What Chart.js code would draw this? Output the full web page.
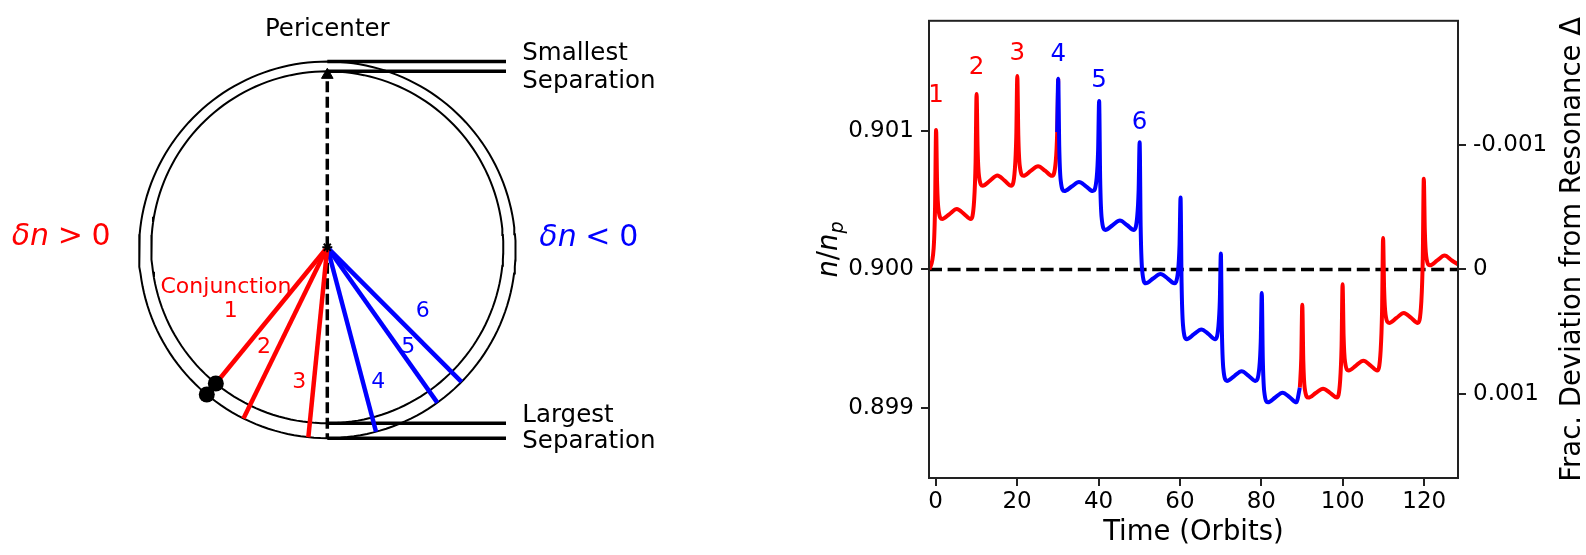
<!DOCTYPE html>
<html>
<head>
<meta charset="utf-8">
<script src="https://cdn.jsdelivr.net/npm/chart.js@4.4.1/dist/chart.umd.min.js"></script>
<style>
  html, body { margin: 0; padding: 0; background: #fff; }
  body { width: 1586px; height: 555px; position: relative; overflow: hidden; }
  #sketch { position: absolute; left: 0; top: 0; }
  #ratioChart { position: absolute; left: 760px; top: 0; }
</style>
</head>
<body>
<canvas id="sketch" width="760" height="555"></canvas>
<canvas id="ratioChart" width="826" height="555"></canvas>
<script>
Chart.defaults.font.family = '"DejaVu Sans", "Liberation Sans", sans-serif';
Chart.defaults.color = '#000';

// ---- left panel: orbit sketch (units are pixels, origin on the star, y up) ----
const innerOrbitRadius = 176;
const outerOrbitSemiMajor = 188.3;
const outerOrbitEcc = 0.0135;
// angle of each conjunction, degrees from apocentre (bottom), + towards the right
const conjunctionAngles = [-39.3, -26.1, -5.7, 14.8, 35.3, 44.9];
const conjunctionNames = ['1', '2', '3', '4', '5', '6'];
const conjunctionColors = ['#ff0000', '#ff0000', '#ff0000', '#0000ff', '#0000ff', '#0000ff'];
const separationLineLength = 178.7;

// ---- right panel: n/n_p against time ----
const orbitTimes = [
  -1.55,
  -0.5, -0.15, 0.1, 0.35, 0.7, 1.6, 3.4, 5.2, 7.0, 8.6,
  9.45, 9.8, 10.05, 10.3, 10.65, 11.55, 13.35, 15.15, 16.95, 18.55,
  19.45, 19.8, 20.05, 20.3, 20.65, 21.55, 23.35, 25.15, 26.95, 28.55,
  29.5, 29.85, 30.1, 30.35, 30.7, 31.6, 33.4, 35.2, 37.0, 38.6,
  39.55, 39.9, 40.15, 40.4, 40.75, 41.65, 43.45, 45.25, 47.05, 48.65,
  49.5, 49.85, 50.1, 50.35, 50.7, 51.6, 53.4, 55.2, 57.0, 58.6,
  59.55, 59.9, 60.15, 60.4, 60.75, 61.65, 63.45, 65.25, 67.05, 68.65,
  69.45, 69.8, 70.05, 70.3, 70.65, 71.55, 73.35, 75.15, 76.95, 78.55,
  79.5, 79.85, 80.1, 80.35, 80.7, 81.6, 83.4, 85.2, 87.0, 88.6,
  89.45, 89.8, 90.05, 90.3, 90.65, 91.55, 93.35, 95.15, 96.95, 98.55,
  99.35, 99.7, 99.95, 100.2, 100.55, 101.45, 103.25, 105.05, 106.85, 108.45,
  109.3, 109.65, 109.9, 110.15, 110.5, 111.4, 113.2, 115.0, 116.8, 118.4,
  119.3, 119.65, 119.9, 120.15, 120.5, 121.4, 123.2, 125.0, 126.8, 128.4
];
const ratioValues = [
  0.900000,
  0.900152, 0.900455, 0.901010, 0.900623, 0.900430, 0.900365, 0.900401, 0.900437, 0.900401, 0.900365,
  0.900501, 0.900772, 0.901270, 0.900872, 0.900672, 0.900606, 0.900643, 0.900680, 0.900643, 0.900606,
  0.900725, 0.900963, 0.901400, 0.900967, 0.900750, 0.900678, 0.900713, 0.900747, 0.900713, 0.900678,
  0.900783, 0.900994, 0.901380, 0.900892, 0.900648, 0.900567, 0.900600, 0.900633, 0.900600, 0.900567,
  0.900665, 0.900861, 0.901220, 0.900660, 0.900379, 0.900286, 0.900320, 0.900354, 0.900320, 0.900286,
  0.900381, 0.900571, 0.900920, 0.900308, 0.900002, 0.899900, 0.899934, 0.899967, 0.899934, 0.899900,
  0.899993, 0.900179, 0.900520, 0.899905, 0.899598, 0.899495, 0.899531, 0.899566, 0.899531, 0.899495,
  0.899588, 0.899774, 0.900115, 0.899562, 0.899285, 0.899193, 0.899228, 0.899263, 0.899228, 0.899193,
  0.899289, 0.899480, 0.899830, 0.899355, 0.899117, 0.899038, 0.899073, 0.899108, 0.899073, 0.899038,
  0.899144, 0.899356, 0.899745, 0.899341, 0.899139, 0.899072, 0.899105, 0.899137, 0.899105, 0.899072,
  0.899195, 0.899441, 0.899893, 0.899518, 0.899331, 0.899268, 0.899304, 0.899339, 0.899304, 0.899268,
  0.899412, 0.899700, 0.900227, 0.899859, 0.899674, 0.899613, 0.899649, 0.899685, 0.899649, 0.899613,
  0.899770, 0.900083, 0.900657, 0.900281, 0.900093, 0.900030, 0.900065, 0.900100, 0.900065, 0.900035
];
const redUntil = 30.1;    // red runs up the flank of spike 4
const blueFrom = 29.85;   // conjunction 4 onwards drawn blue
const blueTo = 89.45;     // back to red from conjunction 10
const resonanceRatio = 0.9;
const timeMin = -1.64, timeMax = 128.3;
const ratioMin = 0.89849, ratioMax = 0.90180;
const timeTicks = [0, 20, 40, 60, 80, 100, 120];
const ratioTicks = [0.899, 0.900, 0.901];
const deltaTicks = [-0.001, 0, 0.001];
const spikeNames = ['1', '2', '3', '4', '5', '6'];
const spikeLabelTimes = [0.1, 10.05, 20.05, 30.1, 40.15, 50.1];
const spikeLabelValues = [0.90128, 0.901478, 0.901578, 0.901575, 0.901385, 0.901084];

const FONT = '"DejaVu Sans"';

// draw text so that the middle of the capitals sits on yc
function capText(ctx, text, x, yc, size) {
  ctx.textBaseline = 'alphabetic';
  ctx.fillText(text, x, yc + 0.3645 * size);
}

// mixed italic / upright label, left aligned at x; gap is extra space in em
function mathText(ctx, parts, x, baseline, size) {
  ctx.textAlign = 'left';
  ctx.textBaseline = 'alphabetic';
  let cx = x;
  parts.forEach(p => {
    if (p.gap) { cx += p.gap * size; return; }
    const s = size * (p.scale || 1);
    ctx.font = (p.italic ? 'italic ' : '') + s + 'px ' + FONT;
    ctx.fillText(p.text, cx, baseline + (p.shift || 0) * size);
    cx += ctx.measureText(p.text).width;
  });
  return cx - x;
}

function mathWidth(ctx, parts, size) {
  let w = 0;
  parts.forEach(p => {
    if (p.gap) { w += p.gap * size; return; }
    ctx.font = (p.italic ? 'italic ' : '') + size * (p.scale || 1) + 'px ' + FONT;
    w += ctx.measureText(p.text).width;
  });
  return w;
}

// ---------------- left panel ----------------
const rad = d => d * Math.PI / 180;
const outerRadius = phi => outerOrbitSemiMajor * (1 - outerOrbitEcc ** 2) / (1 - outerOrbitEcc * Math.cos(phi));
const polar = (r, phi) => ({ x: r * Math.sin(phi), y: -r * Math.cos(phi) });

const innerOrbit = [];
const outerOrbit = [];
for (let d = 0; d <= 360; d += 2) {
  innerOrbit.push(polar(innerOrbitRadius, rad(d)));
  outerOrbit.push(polar(outerRadius(rad(d)), rad(d)));
}
const pericentre = outerRadius(Math.PI);
const apocentre = outerRadius(0);

function stroke(data, color, width, extra) {
  return Object.assign({
    data, showLine: true, fill: false, pointRadius: 0,
    borderColor: color, borderWidth: width, order: 2
  }, extra || {});
}

const firstConj = rad(conjunctionAngles[0]);

const sketchText = {
  id: 'sketchText',
  afterDatasetsDraw(chart) {
    const { ctx, scales: { x, y } } = chart;
    const px = v => x.getPixelForValue(v);
    const py = v => y.getPixelForValue(v);
    ctx.save();
    ctx.fillStyle = '#000';
    ctx.font = '24.5px ' + FONT;
    ctx.textAlign = 'center';
    capText(ctx, 'Pericenter', px(0), py(220), 24.5);
    ctx.textAlign = 'left';
    capText(ctx, 'Smallest', px(195), py(196), 24.5);
    capText(ctx, 'Separation', px(195), py(168.3), 24.5);
    capText(ctx, 'Largest', px(195), py(-165.7), 24.5);
    capText(ctx, 'Separation', px(195), py(-191.7), 24.5);

    ctx.fillStyle = '#ff0000';
    ctx.font = '22px ' + FONT;
    ctx.textAlign = 'center';
    capText(ctx, 'Conjunction', px(-101.3), py(-37.2), 22);

    const numPos = [[-96.6, -62], [-63.3, -97.7], [-28, -132.7], [51, -132.7], [81, -97.7], [95.4, -62]];
    conjunctionNames.forEach((n, i) => {
      ctx.fillStyle = conjunctionColors[i];
      capText(ctx, n, px(numPos[i][0]), py(numPos[i][1]), 22);
    });

    ctx.fillStyle = '#ff0000';
    mathText(ctx, [{ text: 'δn', italic: true }, { gap: 0.29 }, { text: '>' }, { gap: 0.29 }, { text: '0' }],
      px(-315.6), py(13.3) + 0.3645 * 30, 30);
    ctx.fillStyle = '#0000ff';
    mathText(ctx, [{ text: 'δn', italic: true }, { gap: 0.29 }, { text: '<' }, { gap: 0.29 }, { text: '0' }],
      px(212), py(12.3) + 0.3645 * 30, 30);
    ctx.restore();
  }
};

new Chart(document.getElementById('sketch'), {
  type: 'scatter',
  data: {
    datasets: [
      stroke(outerOrbit, '#000', 2, { order: 6 }),
      stroke(innerOrbit, '#000', 2, { order: 6 }),
      stroke([{ x: 0, y: pericentre }, { x: separationLineLength, y: pericentre }], '#000', 3.5, { order: 5 }),
      stroke([{ x: 0, y: innerOrbitRadius }, { x: separationLineLength, y: innerOrbitRadius }], '#000', 3.5, { order: 5 }),
      stroke([{ x: 0, y: -innerOrbitRadius }, { x: separationLineLength, y: -innerOrbitRadius }], '#000', 3.5, { order: 5 }),
      stroke([{ x: 0, y: -apocentre }, { x: separationLineLength, y: -apocentre }], '#000', 3.5, { order: 5 }),
      stroke([{ x: 0, y: 0 }, { x: 0, y: 166 }], '#000', 3.5, { borderDash: [11, 4.5], order: 4 }),
      stroke([{ x: 0, y: 0 }, { x: 0, y: -apocentre }], '#000', 3.5, { borderDash: [11, 4.5], order: 4 }),
      ...conjunctionAngles.map((a, i) =>
        stroke([{ x: 0, y: 0 }, polar(outerRadius(rad(a)), rad(a))], conjunctionColors[i], 4.5, { order: 3 })),
      {
        data: [{ x: 0, y: 172.3 }], pointStyle: 'triangle', pointRadius: 6.7,
        pointBackgroundColor: '#000', backgroundColor: '#000', borderColor: '#000', borderWidth: 1, order: 1
      },
      {
        data: [{ x: 0, y: 0 }], pointStyle: 'star', pointRadius: 5,
        borderColor: '#000', borderWidth: 2, order: 1
      },
      {
        data: [polar(innerOrbitRadius, firstConj), polar(outerRadius(firstConj), firstConj)],
        pointRadius: 8, pointBackgroundColor: '#000', backgroundColor: '#000', borderWidth: 0, order: 0
      }
    ]
  },
  options: {
    responsive: false,
    animation: false,
    events: [],
    layout: { padding: 0, autoPadding: false },
    plugins: { legend: { display: false }, tooltip: { enabled: false } },
    scales: {
      x: { type: 'linear', display: false, min: -327.3, max: 432.7 },
      y: { type: 'linear', display: false, min: -307.7, max: 247.3 }
    }
  },
  plugins: [sketchText]
});

// ---------------- right panel ----------------
const points = orbitTimes.map((t, i) => ({ x: t, y: ratioValues[i] }));
const redEarly = points.filter(p => p.x <= redUntil);
const blueMid = points.filter(p => p.x >= blueFrom && p.x <= blueTo);
const redLate = points.filter(p => p.x >= blueTo);
const exactLine = [{ x: timeMin, y: resonanceRatio }, { x: timeMax, y: resonanceRatio }];

const tickGrid = { drawOnChartArea: false, drawTicks: true, tickLength: 8, lineWidth: 2, color: '#222' };
const tickFont = { size: 23 };

function curve(data, color, order) {
  return {
    data, borderColor: color, borderWidth: 4, pointRadius: 0,
    cubicInterpolationMode: 'monotone', borderJoinStyle: 'round', order
  };
}

const ratioDecor = {
  id: 'ratioDecor',
  afterDraw(chart) {
    const { ctx, chartArea: a, scales } = chart;
    ctx.save();
    ctx.strokeStyle = '#222';
    ctx.lineWidth = 2;
    ctx.strokeRect(a.left, a.top, a.right - a.left, a.bottom - a.top);

    ctx.font = '24.5px ' + FONT;
    ctx.textAlign = 'center';
    spikeNames.forEach((n, i) => {
      ctx.fillStyle = conjunctionColors[i];
      capText(ctx, n, scales.x.getPixelForValue(spikeLabelTimes[i]), scales.y.getPixelForValue(spikeLabelValues[i]), 24.5);
    });

    ctx.fillStyle = '#000';
    const midY = (a.top + a.bottom) / 2;
    const titleSize = 27.5;

    ctx.font = titleSize + 'px ' + FONT;
    ctx.textAlign = 'center';
    ctx.textBaseline = 'alphabetic';
    ctx.fillText('Time (Orbits)', (a.left + a.right) / 2, 539.5);

    // n/n_p, rotated
    const parts = [
      { text: 'n', italic: true }, { text: '/' }, { text: 'n', italic: true },
      { text: 'p', italic: true, scale: 0.7, shift: 0.2 }
    ];
    ctx.save();
    ctx.translate(77, midY);
    ctx.rotate(-Math.PI / 2);
    const w = mathWidth(ctx, parts, titleSize);
    mathText(ctx, parts, -w / 2, 0, titleSize);
    ctx.restore();

    ctx.save();
    ctx.translate(820, midY);
    ctx.rotate(-Math.PI / 2);
    ctx.font = titleSize + 'px ' + FONT;
    ctx.textAlign = 'center';
    ctx.textBaseline = 'alphabetic';
    ctx.fillText('Frac. Deviation from Resonance Δ', 0, 0);
    ctx.restore();
    ctx.restore();
  }
};

new Chart(document.getElementById('ratioChart'), {
  type: 'line',
  data: {
    datasets: [
      { data: exactLine, borderColor: '#000', borderWidth: 3.5, borderDash: [13, 5.6], pointRadius: 0, order: 3 },
      curve(redEarly, '#ff0000', 2),
      curve(blueMid, '#0000ff', 1),
      curve(redLate, '#ff0000', 2)
    ]
  },
  options: {
    responsive: false,
    animation: false,
    events: [],
    layout: { padding: { top: 16, left: 0, right: 0, bottom: 0 }, autoPadding: false },
    plugins: { legend: { display: false }, tooltip: { enabled: false } },
    scales: {
      x: {
        type: 'linear', min: timeMin, max: timeMax,
        afterBuildTicks: s => { s.ticks = timeTicks.map(v => ({ value: v })); },
        afterFit: s => { s.height = 77; },
        grid: tickGrid, border: { display: false },
        ticks: { font: tickFont, padding: 2, maxRotation: 0, autoSkip: false, callback: v => String(v) }
      },
      y: {
        type: 'linear', position: 'left', min: ratioMin, max: ratioMax,
        afterBuildTicks: s => { s.ticks = ratioTicks.map(v => ({ value: v })); },
        afterFit: s => { s.width = 169; },
        grid: tickGrid, border: { display: false },
        ticks: { font: tickFont, padding: 7, autoSkip: false, callback: v => v.toFixed(3) }
      },
      y2: {
        type: 'linear', position: 'right', reverse: true,
        min: 1 - ratioMax / resonanceRatio, max: 1 - ratioMin / resonanceRatio,
        afterBuildTicks: s => { s.ticks = deltaTicks.map(v => ({ value: v })); },
        afterFit: s => { s.width = 128; },
        grid: tickGrid, border: { display: false },
        ticks: { font: tickFont, padding: 7, autoSkip: false, callback: v => (v === 0 ? '0' : v.toFixed(3)) }
      }
    }
  },
  plugins: [ratioDecor]
});
</script>
</body>
</html>
